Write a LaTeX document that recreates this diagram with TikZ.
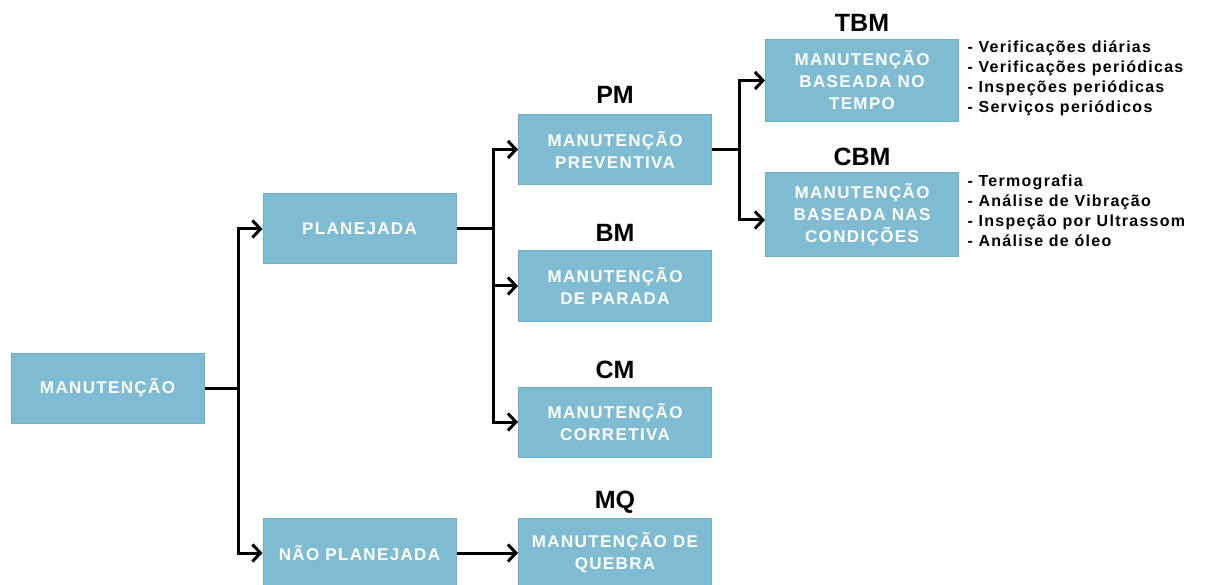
\documentclass[tikz,border=0pt]{standalone}
\usepackage{fontspec}
\setmainfont{Liberation Sans}
\newfontfamily\largo[LetterSpace=8]{Liberation Sans}
\usetikzlibrary{arrows.meta}
\definecolor{boxblue}{HTML}{7FBCD1}
\definecolor{boxline}{HTML}{6CB0C8}
\begin{document}
\begin{tikzpicture}[x=1pt,y=-1pt,
    caixa/.style={rectangle,fill=boxblue,draw=boxline,line width=1pt,minimum width=193pt,minimum height=70pt,inner sep=0pt,text=white,align=center,font=\largo\fontsize{17}{22}\selectfont\bfseries},
    sigla/.style={font=\fontsize{25}{25}\selectfont\bfseries},
    lista/.style={anchor=west,align=left,font=\largo\fontsize{16}{20}\selectfont\bfseries},
    liga/.style={line width=3pt},
    seta/.style={line width=3pt,-{Straight Barb[length=8pt,width=17pt]}}]
  \useasboundingbox (0,0) rectangle (1223,585);

  \node[caixa] (man) at (107.5,388) {MANUTENÇÃO};
  \node[caixa] (plan) at (359.5,229) {PLANEJADA};
  \node[caixa] (nplan) at (359.5,553) {NÃO PLANEJADA};

  \node[caixa] (pm) at (615,149.5) {MANUTENÇÃO\\PREVENTIVA};
  \node[caixa] (bm) at (615,286) {MANUTENÇÃO\\DE PARADA};
  \node[caixa] (cm) at (615,422) {MANUTENÇÃO\\CORRETIVA};
  \node[caixa] (mq) at (615,553) {MANUTENÇÃO DE\\QUEBRA};

  \node[caixa,minimum height=82pt] (tbm) at (862,80.5) {MANUTENÇÃO\\BASEADA NO\\TEMPO};
  \node[caixa,minimum height=84pt] (cbm) at (862,215) {MANUTENÇÃO\\BASEADA NAS\\CONDIÇÕES};

  \node[sigla] (pmlab) at (615,95) {PM};
  \node[sigla] (bmlab) at (615,233) {BM};
  \node[sigla] (cmlab) at (615,370) {CM};
  \node[sigla] (mqlab) at (615,502) {MQ};
  \node[sigla] (tbmlab) at (862,23) {TBM};
  \node[sigla] (cbmlab) at (862,157) {CBM};

  \node[lista] (tbmlist) at (964,78) {- Verificações diárias\\- Verificações periódicas\\- Inspeções periódicas\\- Serviços periódicos};
  \node[lista] (cbmlist) at (964,211) {- Termografia\\- Análise de Vibração\\- Inspeção por Ultrassom\\- Análise de óleo};

  \draw[liga] (man.east) -- (238,388) coordinate (b1);
  \draw[seta] (b1) |- (plan.west);
  \draw[seta] (b1) |- (nplan.west);

  \draw[liga] (plan.east) -- (493,229) coordinate (b2);
  \draw[seta] (b2) |- (pm.west);
  \draw[seta] (b2) |- (bm.west);
  \draw[seta] (b2) |- (cm.west);

  \draw[seta] (nplan.east) -- (mq.west);

  \draw[liga] (pm.east) -- (739,149.5) coordinate (b3);
  \draw[seta] (b3) |- (tbm.west);
  \draw[seta] (b3) |- ([yshift=-5pt]cbm.west);
\end{tikzpicture}
\end{document}
